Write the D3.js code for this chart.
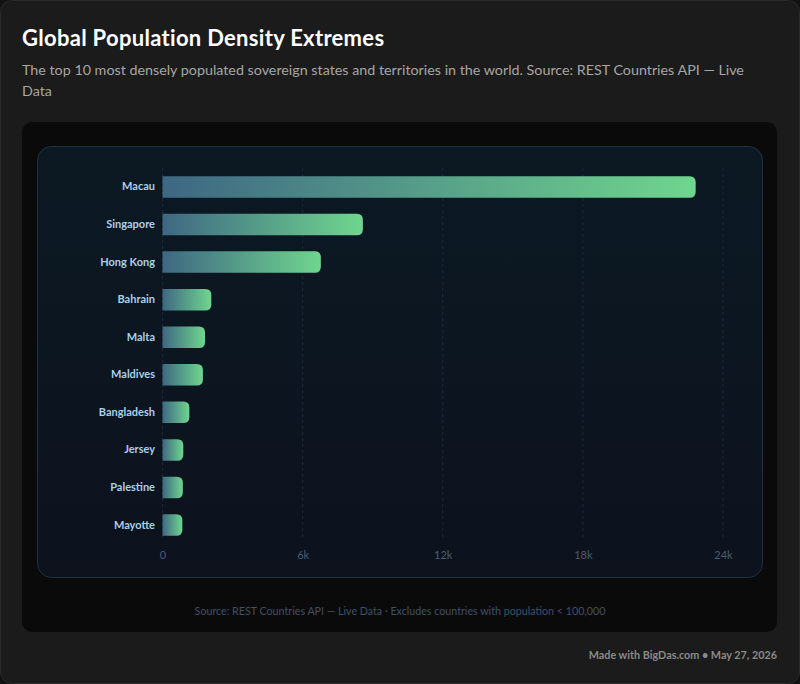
<!DOCTYPE html>
<html>
<head>
<meta charset="utf-8">
<script src="https://cdn.jsdelivr.net/npm/d3@7"></script>
<style>
  html, body { margin: 0; padding: 0; background: #121212; }
  body { width: 800px; height: 684px; position: relative; overflow: hidden; font-family: Lato, "Open Sans", sans-serif; }
  .card { position: absolute; left: 0; top: 0; width: 798px; height: 682px; background: #1b1b1b; border: 1px solid #2a2a2a; border-radius: 12px; }
  .title { position: absolute; left: 22px; top: 24px; font-size: 22px; font-weight: 700; color: #ffffff; letter-spacing: 0.3px; }
  .subtitle { position: absolute; left: 22px; top: 59px; width: 735px; font-size: 14.3px; line-height: 21px; color: #a6a6a6; }
  .panel { position: absolute; left: 22px; top: 122px; width: 755px; height: 510px; background: #0a0a0a; border-radius: 10px; }
  .footer { position: absolute; right: 23px; top: 648px; font-size: 10.8px; font-weight: 700; color: #8a8a8a; }
  #chart { position: absolute; left: 0; top: 0; }
</style>
</head>
<body>
<div class="card"></div>
<div class="title">Global Population Density Extremes</div>
<div class="subtitle">The top 10 most densely populated sovereign states and territories in the world. Source: REST Countries API — Live Data</div>
<div class="panel"></div>
<div class="footer">Made with BigDas.com • May 27, 2026</div>
<div id="chart"></div>
<script>
// people per km²
const countries = ['Macau', 'Singapore', 'Hong Kong', 'Bahrain', 'Malta', 'Maldives', 'Bangladesh', 'Jersey', 'Palestine', 'Mayotte'];
const density = [22830, 8580, 6780, 2090, 1820, 1730, 1150, 890, 870, 850];
const xTicks = [0, 6000, 12000, 18000, 24000];
const caption = 'Source: REST Countries API — Live Data · Excludes countries with population < 100,000';

const data = countries.map((c, i) => ({ name: c, value: density[i] }));

const svg = d3.select('#chart').append('svg')
    .attr('width', 800)
    .attr('height', 684);

const defs = svg.append('defs');

const bg = defs.append('linearGradient')
    .attr('id', 'panelBg')
    .attr('x1', 0).attr('y1', 0).attr('x2', 0).attr('y2', 1);
bg.append('stop').attr('offset', '0%').attr('stop-color', '#0b1923');
bg.append('stop').attr('offset', '100%').attr('stop-color', '#0d121d');

const barGrad = defs.append('linearGradient')
    .attr('id', 'barGrad')
    .attr('x1', 0).attr('y1', 0).attr('x2', 1).attr('y2', 0);
barGrad.append('stop').attr('offset', '0%').attr('stop-color', '#3e6783');
barGrad.append('stop').attr('offset', '100%').attr('stop-color', '#6fd68e');

// chart panel
svg.append('rect')
    .attr('x', 37.5).attr('y', 146.5)
    .attr('width', 725).attr('height', 431)
    .attr('rx', 14)
    .attr('fill', 'url(#panelBg)')
    .attr('stroke', '#1d3243');

const xScale = d3.scaleLinear()
    .domain([0, 24000])
    .range([162.5, 723]);

const yScale = d3.scaleBand()
    .domain(countries)
    .range([170, 542])
    .paddingInner(0.1)
    .paddingOuter(0);

const barH = 21.5;
const r = 6;

// Gridlines
svg.append('g')
    .selectAll('line')
    .data(xTicks)
    .join('line')
    .attr('x1', d => xScale(d))
    .attr('x2', d => xScale(d))
    .attr('y1', yScale.range()[0] - 2)
    .attr('y2', yScale.range()[1] - 2)
    .attr('stroke', '#1c2a38')
    .attr('stroke-dasharray', '3,3');

// X axis
const xAxis = svg.append('g')
    .attr('transform', `translate(0, ${yScale.range()[1] - 1})`)
    .call(d3.axisBottom(xScale).tickValues(xTicks).tickSize(0).tickPadding(10)
        .tickFormat(d => d === 0 ? '0' : (d / 1000) + 'k'));
xAxis.select('.domain').remove();
xAxis.selectAll('text')
    .attr('fill', '#4a5d76')
    .style('font-family', 'Lato, sans-serif')
    .style('font-size', '11px');

// Y axis labels
const yAxis = svg.append('g')
    .attr('transform', 'translate(155, 0)')
    .call(d3.axisLeft(yScale).tickSize(0).tickPadding(0));
yAxis.select('.domain').remove();
yAxis.selectAll('text')
    .attr('fill', '#a9d0ea')
    .style('font-family', 'Lato, sans-serif')
    .style('font-size', '11px')
    .style('font-weight', '700');

// Bars: square left side, rounded right side
function barPath(d) {
    const x0 = xScale(0);
    const x1 = xScale(d.value);
    const y0 = yScale(d.name) + (yScale.bandwidth() - barH) / 2;
    const y1 = y0 + barH;
    const rr = Math.min(r, (x1 - x0) / 2);
    return `M${x0},${y0} H${x1 - rr} Q${x1},${y0} ${x1},${y0 + rr} V${y1 - rr} Q${x1},${y1} ${x1 - rr},${y1} H${x0} Z`;
}

svg.append('g')
    .selectAll('path')
    .data(data)
    .join('path')
    .attr('d', barPath)
    .attr('fill', 'url(#barGrad)');

// caption
svg.append('text')
    .attr('x', 400)
    .attr('y', 615)
    .attr('text-anchor', 'middle')
    .attr('fill', '#3f5169')
    .style('font-family', 'Lato, sans-serif')
    .style('font-size', '10.7px')
    .text(caption);
</script>
</body>
</html>
